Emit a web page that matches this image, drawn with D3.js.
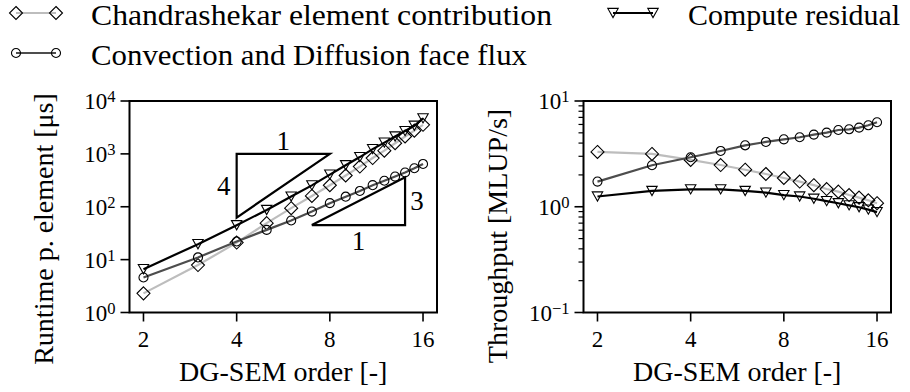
<!DOCTYPE html>
<html>
<head>
<meta charset="utf-8">
<script src="https://cdn.jsdelivr.net/npm/d3@7"></script>
<style>
	html, body {margin: 0; padding: 0; background: #fff;}
	svg {display: block;}
</style>
</head>
<body>
<svg id="chart" width="910" height="392" font-family="Liberation Serif"></svg>
<script>
(function() {
	'use strict';

	// DG-SEM polynomial order
	var orders = [2, 3, 4, 5, 6, 7, 8, 9, 10, 11, 12, 13, 14, 15, 16];

	// runtime per element [us]
	var chandraRuntime = [2.3, 7.9, 21, 49, 94, 160, 255, 390, 575, 835, 1150, 1590, 2130, 2750, 3540];
	var faceFluxRuntime = [4.6, 11, 22, 36.5, 55, 81, 117, 155, 199, 256, 310, 372, 445, 535, 645];
	var residualRuntime = [6.6, 19.6, 44.7, 87, 156, 254, 405, 610, 870, 1230, 1630, 2130, 2700, 3400, 4700];

	// throughput [MLUP/s]
	var chandraThroughput = [3.30, 3.16, 2.77, 2.48, 2.24, 2.04, 1.87, 1.73, 1.60, 1.47, 1.39, 1.29, 1.22, 1.15, 1.08];
	var faceFluxThroughput = [1.73, 2.47, 2.94, 3.37, 3.81, 4.10, 4.34, 4.54, 4.81, 5.02, 5.32, 5.40, 5.60, 5.89, 6.29];
	var residualThroughput = [1.25, 1.41, 1.46, 1.46, 1.41, 1.36, 1.29, 1.25, 1.19, 1.13, 1.08, 1.03, 0.99, 0.94, 0.89];

	var xTicks = [2, 4, 8, 16];
	var runtimeTicks = [1, 10, 100, 1000, 10000];
	var throughputTicks = [0.1, 1, 10];

	// slope guide triangles on the runtime plot
	var slopeFour = [[4, 62.5], [4, 1000], [8, 1000]];
	var slopeThree = [[7, 45], [14, 45], [14, 360]];

	var series = [
		{name: 'Chandrashekar element contribution', color: '#bdbdbd', marker: 'diamond',
			runtime: chandraRuntime, throughput: chandraThroughput, width: 461},
		{name: 'Convection and Diffusion face flux', color: '#4d4d4d', marker: 'circle',
			runtime: faceFluxRuntime, throughput: faceFluxThroughput, width: 436},
		{name: 'Compute residual', color: '#000000', marker: 'triangle',
			runtime: residualRuntime, throughput: residualThroughput, width: 212}];

	var svg = d3.select('#chart');

	function markerPath(kind) {
		if ('diamond' === kind) {return 'M0,-6.5L6.5,0L0,6.5L-6.5,0Z';}
		if ('triangle' === kind) {return 'M-5.2,-4.6L5.2,-4.6L0,4.6Z';}
		return d3.symbol(d3.symbolCircle, 64)();}

	function superscript(sel, exponent) {
		sel.text('10');
		sel.append('tspan')
			.attr('dy', '-0.42em')
			.style('font-size', '0.72em')
			.text(exponent < 0 ? '\u2212' + (-exponent) : String(exponent));}

	function drawPanel(cfg) {
		var x = d3.scaleLog().base(2)
			.domain([2 / Math.pow(2, 0.15), 16 * Math.pow(2, 0.15)])
			.range([cfg.left, cfg.left + 307.5]);
		var y = d3.scaleLog()
			.domain(cfg.yDomain)
			.range([312.5, 101]);

		var g = svg.append('g');

		// minor ticks (only on the throughput panel)
		if (cfg.minor) {
			var minor = y.ticks().filter(function(v) {
				return runtimeTicks.concat(throughputTicks).indexOf(v) < 0;});
			g.selectAll('line.minor').data(minor).enter().append('line')
				.attr('x1', x.range()[0] - 5).attr('x2', x.range()[0])
				.attr('y1', function(d) {return y(d);}).attr('y2', function(d) {return y(d);})
				.attr('stroke', '#000').attr('stroke-width', 1.2);}

		// major y ticks and labels
		g.selectAll('line.ytick').data(cfg.yTicks).enter().append('line')
			.attr('x1', x.range()[0] - 9).attr('x2', x.range()[0])
			.attr('y1', function(d) {return y(d);}).attr('y2', function(d) {return y(d);})
			.attr('stroke', '#000').attr('stroke-width', 1.6);
		g.selectAll('text.ylab').data(cfg.yTicks).enter().append('text')
			.attr('x', x.range()[0] - 14)
			.attr('y', function(d) {return y(d) + 8;})
			.attr('text-anchor', 'end')
			.style('font-size', '23px')
			.each(function(d) {superscript(d3.select(this), Math.round(Math.log10(d)));});

		// x ticks and labels
		g.selectAll('line.xtick').data(xTicks).enter().append('line')
			.attr('x1', function(d) {return x(d);}).attr('x2', function(d) {return x(d);})
			.attr('y1', 312.5).attr('y2', 321.5)
			.attr('stroke', '#000').attr('stroke-width', 1.6);
		g.selectAll('text.xlab').data(xTicks).enter().append('text')
			.attr('x', function(d) {return x(d);})
			.attr('y', 347)
			.attr('text-anchor', 'middle')
			.style('font-size', '23px')
			.text(function(d) {return d;});

		// axis titles
		g.append('text')
			.attr('x', (x.range()[0] + x.range()[1]) / 2)
			.attr('y', 381)
			.attr('text-anchor', 'middle')
			.style('font-size', '28px')
			.text('DG-SEM order [-]');
		g.append('text')
			.attr('transform', 'translate(' + (cfg.left - 77) + ',' + cfg.titleY + ') rotate(-90)')
			.attr('text-anchor', 'middle')
			.style('font-size', '28px')
			.text(cfg.title);

		// slope guides
		(cfg.slopes || []).forEach(function(s) {
			g.append('path')
				.attr('d', d3.line()
					.x(function(p) {return x(p[0]);})
					.y(function(p) {return y(p[1]);})(s.points) + 'Z')
				.attr('fill', 'none').attr('stroke', '#000').attr('stroke-width', 2.2);
			s.labels.forEach(function(l) {
				g.append('text')
					.attr('x', x(l.at[0]) + l.dx)
					.attr('y', y(l.at[1]) + l.dy)
					.attr('text-anchor', 'middle')
					.style('font-size', '27px')
					.text(l.text);});});

		// series lines and markers
		series.forEach(function(s) {
			var values = s[cfg.key];
			var pts = orders.map(function(o, i) {return [o, values[i]];});
			g.append('path')
				.attr('d', d3.line()
					.x(function(p) {return x(p[0]);})
					.y(function(p) {return y(p[1]);})(pts))
				.attr('fill', 'none').attr('stroke', s.color).attr('stroke-width', 2.2);
			g.selectAll(null).data(pts).enter().append('path')
				.attr('transform', function(p) {return 'translate(' + x(p[0]) + ',' + y(p[1]) + ')';})
				.attr('d', markerPath(s.marker))
				.attr('fill', 'none').attr('stroke', '#000').attr('stroke-width', 1.1);});

		// frame
		g.append('rect')
			.attr('x', x.range()[0]).attr('y', 101)
			.attr('width', x.range()[1] - x.range()[0]).attr('height', 211.5)
			.attr('fill', 'none').attr('stroke', '#000').attr('stroke-width', 2);}

	drawPanel({left: 129.5, key: 'runtime', yDomain: [1, 10000], yTicks: runtimeTicks,
		minor: false, title: 'Runtime p. element [\u03bcs]', titleY: 229,
		slopes: [
			{points: slopeFour, labels: [
				{text: '1', at: [Math.sqrt(32), 1000], dx: 0, dy: -4},
				{text: '4', at: [4, 250], dx: -13, dy: 9}]},
			{points: slopeThree, labels: [
				{text: '3', at: [14, Math.sqrt(45 * 360)], dx: 12, dy: 9},
				{text: '1', at: [Math.sqrt(98), 45], dx: 0, dy: 25}]}]});

	drawPanel({left: 583.5, key: 'throughput', yDomain: [0.1, 10], yTicks: throughputTicks,
		minor: true, title: 'Throughput [MLUP/s]', titleY: 236});

	// legend
	var legendPos = [[16, 13], [16, 53], [613, 13]];
	series.forEach(function(s, i) {
		var lg = svg.append('g')
			.attr('transform', 'translate(' + legendPos[i][0] + ',' + legendPos[i][1] + ')');
		lg.append('line')
			.attr('x1', 0).attr('x2', 40)
			.attr('stroke', s.color).attr('stroke-width', 2.2);
		[0, 40].forEach(function(mx) {
			lg.append('path')
				.attr('transform', 'translate(' + mx + ',0)')
				.attr('d', markerPath(s.marker))
				.attr('fill', 'none').attr('stroke', '#000').attr('stroke-width', 1.1);});
		lg.append('text')
			.attr('x', 75).attr('y', 12)
			.attr('textLength', s.width)
			.attr('lengthAdjust', 'spacingAndGlyphs')
			.style('font-size', '29px')
			.text(s.name);});

})();
</script>
</body>
</html>
